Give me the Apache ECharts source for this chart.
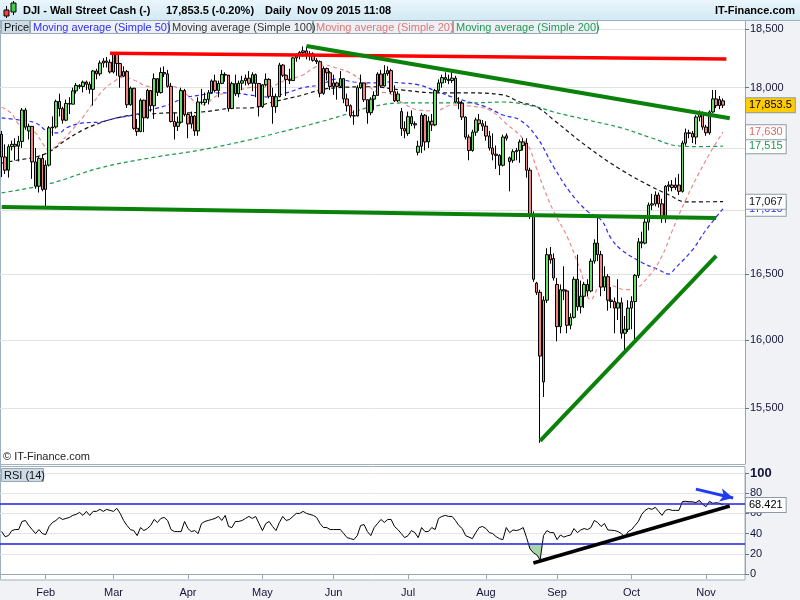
<!DOCTYPE html>
<html><head><meta charset="utf-8">
<script src="https://cdn.jsdelivr.net/npm/echarts@6/dist/echarts.min.js"></script>
<style>html,body{margin:0;padding:0;background:#fff}#c{width:800px;height:600px}</style>
</head><body><div id="c"></div>
<script>
// ---------- DATA ----------
// daily candles, each row = [open, close, low, high]
const ohlcJan = [
[17613,17427,17264,17640],[17427,17320,17290,17530],[17320,17511,17260,17530],[17511,17530,17480,17560],
[17530,17515,17400,17580],[17515,17554,17390,17600],[17554,17813,17500,17830],[17813,17672,17650,17830],
[17640,17678,17570,17700],[17678,17387,17250,17680],[17387,17191,17170,17500],[17191,17416,17140,17430],
[17416,17165,17150,17450]];
const ohlcFeb = [
[17165,17361,17010,17400],[17361,17666,17350,17680],[17666,17673,17600,17760],[17673,17885,17660,17900],
[17885,17825,17760,17950],[17825,17729,17700,17840],[17729,17868,17720,17900],[17868,17862,17780,17920],
[17862,17973,17860,18000],[17973,18019,17950,18040],[18019,18010,17990,18030],[18010,18047,17960,18060],
[18047,18029,17980,18060],[18029,17986,17950,18050],[17986,18141,17850,18150],[18141,18117,18070,18160],
[18117,18209,18100,18230],[18209,18225,18170,18250],[18225,18215,18170,18260],[18215,18133,18120,18240]];
const ohlcMar = [
[18133,18289,18120,18290],[18289,18204,18100,18290],[18204,18097,18000,18210],[18097,18136,18090,18180],
[18136,17857,17830,18150],[17857,17996,17850,18010],[17996,17662,17650,17990],[17662,17635,17600,17740],
[17635,17895,17630,17910],[17895,17749,17630,17900],[17749,17977,17740,17990],[17977,17849,17800,17980],
[17849,18076,17740,18120],[18076,17959,17930,18080],[17959,18128,17950,18170],[18128,18116,18090,18180],
[18116,18011,18000,18150],[18011,17718,17710,18040],[17718,17678,17570,17790],[17678,17712,17640,17760],
[17712,17976,17700,18000],[17976,17776,17760,17990]];
const ohlcApr = [
[17776,17698,17580,17790],[17698,17763,17660,17800],[17763,17640,17600,17770],[17640,17880,17600,17920],
[17880,17875,17860,17990],[17875,17902,17850,17960],[17902,17958,17860,17980],[17958,18057,17950,18070],
[18057,17977,17960,18110],[17977,18036,17920,18060],[18036,18112,18030,18150],[18112,18106,18050,18130],
[18106,17826,17800,18100],[17826,18034,17820,18050],[18034,17949,17930,18110],[17949,18038,17920,18060],
[18038,18058,17980,18100],[18058,18080,18020,18110],[18080,18037,18020,18140],[18037,18110,17970,18130],
[18110,18035,17920,18120],[18035,17841,17760,18040]];
const ohlcMay = [
[17841,18024,17830,18030],[18024,18070,18010,18120],[18070,17928,17910,18080],[17928,17841,17700,18000],
[17841,17924,17790,17950],[17924,18191,17920,18210],[18191,18105,18090,18200],[18105,18068,17930,18110],
[18068,18060,18030,18160],[18060,18252,18060,18260],[18252,18272,18220,18290],[18272,18298,18240,18310],
[18298,18312,18260,18350],[18312,18285,18240,18350],[18285,18285,18230,18310],[18285,18232,18220,18300],
[18232,18220,18200,18250],[18220,17953,17920,18230],[17953,18162,17940,18180],[18162,18126,18060,18170],
[18126,18010,17980,18140]];
const ohlcJun = [
[18010,18040,17940,18110],[18040,18011,17900,18050],[18011,18076,18000,18140],[18076,17906,17870,18080],
[17906,17849,17800,17950],[17849,17766,17750,17860],[17766,17764,17690,17810],[17764,18000,17760,18020],
[18000,18039,17990,18110],[18039,17899,17880,18040],[17899,17791,17700,17900],[17791,17904,17770,17920],
[17904,17935,17810,17970],[17935,18115,17930,18130],[18115,18015,18000,18150],[18015,18119,18010,18190],
[18119,18144,18100,18180],[18144,17966,17950,18160],[17966,17890,17880,18020],[17890,17947,17880,17970],
[17800,17660,17600,17830],[17660,17640,17580,17720]];
const ohlcJul = [
[17620,17758,17600,17800],[17758,17700,17680,17810],[17700,17690,17660,17720],[17465,17515,17440,17560],
[17515,17770,17460,17790],[17770,17550,17480,17780],[17550,17720,17500,17760],[17720,17690,17640,17780],
[17690,17977,17680,17990],[17977,18040,17960,18070],[18040,18085,18000,18110],[18085,18070,18040,18130],
[18070,18060,18030,18110],[18060,18080,18040,18140],[18080,17880,17870,18100],[17880,17870,17820,17920],
[17870,17755,17730,17890],[17755,17590,17570,17760],[17590,17480,17400,17610],[17480,17630,17470,17650],
[17630,17731,17600,17750],[17731,17700,17640,17780],[17700,17680,17640,17730]];
const ohlcAug = [
[17680,17598,17560,17720],[17598,17500,17480,17640],[17500,17450,17400,17620],[17450,17440,17330,17520],
[17440,17360,17280,17450],[17360,17590,17350,17610],[17600,17580,17560,17620],[17420,17390,17150,17430],
[17400,17470,17380,17490],[17470,17480,17400,17500],[17480,17550,17380,17570],[17550,17520,17480,17580],
[17540,17320,17260,17580],[17320,16950,16930,17340],[16950,16460,16440,16990],[16430,16360,16340,16440],
[16360,15880,15250,16380],[15690,16300,15580,16330],[16300,16650,16280,16700],[16650,16610,16580,16710],
[16620,16470,16450,16660]];
const ohlcSep = [
[16420,16100,15990,16470],[16100,16380,16050,16420],[16380,16370,16300,16560],[16370,16110,16050,16380],
[16110,16170,16080,16200],[16170,16460,16160,16480],[16460,16250,16220,16650],[16250,16330,16200,16450],
[16330,16420,16240,16440],[16420,16370,16330,16460],[16370,16600,16360,16620],[16600,16740,16580,16770],
[16740,16650,16600,16960],[16650,16400,16330,16680],[16400,16480,16370,16560],[16480,16300,16220,16500],
[16300,16290,16240,16400],[16290,16240,16050,16320],[16240,16280,16150,16460],[16280,16050,16010,16320],
[16050,16080,15910,16180],[16080,16240,16060,16300]];
const ohlcOct = [
[16240,16290,16080,16330],[16290,16490,15990,16500],[16490,16750,16470,16780],[16750,16740,16700,16830],
[16740,16905,16730,16940],[16905,17040,16840,17060],[17040,17050,17000,17130],[17050,17120,17030,17150],
[17120,17050,17020,17140],[17050,16950,16900,17090],[16950,17190,16900,17200],[17190,17200,17150,17230],
[17200,17180,17150,17240],[17180,17200,17160,17260],[17200,17150,17120,17290],[17150,17540,17140,17560],
[17540,17625,17520,17660],[17625,17620,17580,17650],[17620,17590,17540,17640],[17590,17755,17530,17770],
[17755,17790,17720,17810],[17790,17672,17650,17800]];
const ohlcNov = [
[17672,17625,17600,17690],[17625,17797,17610,17810],[17797,17906,17790,17981],[17906,17850,17830,17980],
[17850,17900,17820,17930],[17890,17853.5,17830,17910]];

// moving averages, [bar index, value]
const sma20Pts = [[0,17839],[3,17781],[5,17698],[10,17624],[12,17541],[14,17485],[17,17541],[20,17624],[24,17755],
[27,17872],[30,17981],[33,18048],[36,18090],[39,18065],[44,18008],[49,18024],[54,17956],[59,17855],[64,17939],
[68,17956],[73,18000],[79,18008],[84,18065],[89,18107],[92,18165],[95,18191],[99,18165],[103,18123],[107,18048],
[111,17964],[114,17956],[118,17880],[123,17814],[128,17806],[133,17855],[138,17847],[144,17814],[149,17700],
[155,17540],[158,17330],[160,17180],[163,16990],[167,16790],[171,16520],[174,16303],[177,16410],[180,16410],
[184,16380],[186,16380],[191,16480],[195,16640],[198,16836],[202,17082],[208,17403],[213,17630]];
const sma50Pts = [[0,17748],[5,17731],[10,17706],[14,17632],[17,17624],[19,17665],[24,17706],[29,17714],[34,17748],
[39,17772],[44,17814],[49,17855],[54,17914],[59,17939],[64,17956],[68,17956],[73,17939],[79,17922],[84,17956],
[89,18000],[94,18024],[99,18073],[104,18048],[109,18040],[114,18048],[118,18040],[123,18024],[129,17964],
[133,17922],[138,17880],[143,17839],[148,17772],[153,17731],[158,17590],[163,17346],[168,17138],[173,16990],
[177,16923],[180,16775],[183,16688],[189,16590],[194,16533],[197,16500],[199,16548],[204,16688],[208,16844],[213,17010]];
const sma100Pts = [[0,17378],[5,17403],[10,17427],[14,17468],[19,17566],[24,17648],[29,17706],[34,17748],[39,17772],
[44,17781],[49,17789],[54,17789],[59,17797],[64,17814],[68,17830],[73,17830],[79,17872],[84,17906],[89,17939],
[94,17981],[99,18000],[109,18008],[118,17981],[129,17956],[138,17956],[148,17939],[153,17880],[158,17839],
[163,17731],[173,17509],[183,17322],[192,17186],[197,17122],[202,17066],[213,17067]];
const sma200Pts = [[0,17138],[14,17210],[29,17338],[44,17420],[59,17485],[73,17566],[79,17607],[94,17714],[104,17797],
[109,17839],[118,17872],[129,17872],[138,17872],[148,17880],[158,17839],[163,17797],[173,17731],[183,17665],
[192,17582],[200,17517],[206,17512],[213,17515]];

// RSI(14) per bar
const rsiValues = [
42,37,38,43,44,44,52,53,48,44, 40,44,40,39,47,51,53,56,54,55, 56,58,59,61,58,62,58,62,62,64,
62,64,63,62,65,60,53,48,44,43, 38,46,43,45,48,54,51,55,56,53, 44,42,42,42,52,45,42,43,40,50,
52,53,54,55,57,53,58,47,46,52, 52,53,55,57,55,57,50,43,50,52, 47,43,51,57,53,54,57,60,60,62,
60,59,58,56,50,46,46,44,44,44, 44,40,36,35,34,38,48,49,42,38, 46,50,54,51,54,54,47,44,40,36,
38,43,41,36,46,42,42,46,44,55, 57,58,57,57,53,48,45,38,36.5,35, 41,46,47,45,41,40,37,35,34,46,
41,43.6,43,44,46,36,25,21,19,14, 38,43,41,41,34,38.6,36.5,37.8,38.6,45, 41,43.6,45,44,46,53,51,47,50,43.6,
43.3,43,42,40,36.5,42,44,48,52,59, 63,65,64,66,62,58,63,64,63,63, 63,71.6,72,71.5,71.5,70.6,73,69,66.6,72,
70,70.6,70,68.421];

// analyst trend lines: [bar index, value]
const trendRed = [[32,18291],[214,18243]];
const trendGreenDown = [[90,18354],[215,17745]];
const trendGreenFlat = [[0,17025],[211,16938]];
const trendGreenUp = [[159,15263],[211,16640]];
const rsiTrend = [[157,10.9],[215,67.3]];
const rsiArrow = [[205,84],[216,75.2]];

const priceTicks = [15500,16000,16500,17000,17500,18000,18500];
const rsiBands = [70,30];
const firstDay = '2015-01-14';
const nCategories = 220;
const monthNames = ['Jan','Feb','Mar','Apr','May','Jun','Jul','Aug','Sep','Oct','Nov','Dec'];

// ---------- BUILD ----------
const categories = [];
(function(){ const d=new Date(firstDay+'T00:00:00Z');
  while(categories.length<nCategories){ const w=d.getUTCDay(); if(w!==0&&w!==6) categories.push(d.toISOString().slice(0,10)); d.setUTCDate(d.getUTCDate()+1);} })();
function isMonthStart(i){ return i>0 && categories[i].slice(5,7)!==categories[i-1].slice(5,7); }
const ohlc = [].concat(ohlcJan,ohlcFeb,ohlcMar,ohlcApr,ohlcMay,ohlcJun,ohlcJul,ohlcAug,ohlcSep,ohlcOct,ohlcNov);
const fmt = v => Number(v).toLocaleString('en-US');
const FONT = '"Liberation Sans", Arial, sans-serif';
const C20='#ee8888', C50='#2a2aff', C100='#111111', C200='#1a9a4a';
const lastOf = a => a[a.length-1][1];
const HIDDEN = {color:'rgba(0,0,0,0)', width:0, type:'solid'};

function boxLabel(text, color, bg){
  return {show:true, position:'end', distance:1, formatter:text, color:color, backgroundColor:bg||'#fff',
    borderColor:'#8d9aa6', borderWidth:1, padding:[2,3,1,3], fontSize:11, fontFamily:FONT, opacity:1};
}
function seg(pts, style, endSym){
  return [{coord:pts[0], symbol:'none', lineStyle:style}, {coord:pts[1], symbol:endSym||'none', symbolSize:[10,13]}];
}
function maSeries(name, pts, color, boxColor){
  return {name, type:'line', xAxisIndex:0, yAxisIndex:0, data:pts, showSymbol:false, smooth:0.4, z:2,
    lineStyle:{color, width:1.2, type:[4,3]},
    markLine:{silent:true, symbol:'none', animation:false, z:6, label:{show:false},
      data:[{yAxis:lastOf(pts), lineStyle:HIDDEN, label:boxLabel(fmt(lastOf(pts)), boxColor||color)}]}};
}

const chart = echarts.init(document.getElementById('c'), null, {renderer:'canvas'});
const legendItems = [
  {t:'Price', x:1, w:28, c:'#111', bg:'#cddbe6'},
  {t:'Moving average (Simple 50)', x:30, w:138, c:'#2d2dff', bg:'#edf1f5'},
  {t:'Moving average (Simple 100)', x:169, w:143, c:'#333', bg:'#edf1f5'},
  {t:'Moving average (Simple 20)', x:313, w:139, c:'#e07676', bg:'#edf1f5'},
  {t:'Moving average (Simple 200)', x:453, w:144, c:'#1e9a55', bg:'#edf1f5'}
];
const graphics = [
  {type:'rect', z:-10, silent:true, shape:{x:745,y:20,width:55,height:580}, style:{fill:'#f0f2f5'}},
  {type:'rect', z:-10, silent:true, shape:{x:0,y:580,width:800,height:20}, style:{fill:'#f0f2f5'}},
  {type:'rect', z:-10, silent:true, shape:{x:0,y:0,width:800,height:20},
    style:{fill:new echarts.graphic.LinearGradient(0,0,0,1,[{offset:0,color:'#eaf6fc'},{offset:1,color:'#d3e9f4'}])}},
  {type:'line', silent:true, shape:{x1:0,y1:20.5,x2:800,y2:20.5}, style:{stroke:'#9fb0bf',lineWidth:1}},
  {type:'line', silent:true, shape:{x1:0.5,y1:20,x2:0.5,y2:580}, style:{stroke:'#9fb0bf',lineWidth:1}},
  {type:'line', silent:true, shape:{x1:0,y1:464.5,x2:745,y2:464.5}, style:{stroke:'#9fb0bf',lineWidth:1}},
  {type:'rect', silent:true, shape:{x:0.5,y:466.5,width:744.5,height:113.5}, style:{fill:'none',stroke:'#9fb0bf',lineWidth:1}},
  // header icon
  {type:'line', silent:true, shape:{x1:6.5,y1:6,x2:6.5,y2:18}, style:{stroke:'#000'}},
  {type:'rect', silent:true, shape:{x:4,y:10,width:5,height:6}, style:{fill:'#ee4444',stroke:'#000'}},
  {type:'line', silent:true, shape:{x1:13.5,y1:1,x2:13.5,y2:15}, style:{stroke:'#000'}},
  {type:'rect', silent:true, shape:{x:11,y:3,width:5,height:9}, style:{fill:'#44cc44',stroke:'#000'}},
  {type:'text', silent:true, x:23, y:11, style:{text:'DJI - Wall Street Cash (-)', font:'bold 11px '+FONT, fill:'#000', textVerticalAlign:'middle'}},
  {type:'text', silent:true, x:166, y:11, style:{text:'17,853.5 (-0.20%)', font:'bold 11px '+FONT, fill:'#000', textVerticalAlign:'middle'}},
  {type:'text', silent:true, x:265, y:11, style:{text:'Daily', font:'bold 11px '+FONT, fill:'#000', textVerticalAlign:'middle'}},
  {type:'text', silent:true, x:297, y:11, style:{text:'Nov 09 2015 11:08', font:'bold 11px '+FONT, fill:'#000', textVerticalAlign:'middle'}},
  {type:'text', silent:true, x:795, y:11, style:{text:'IT-Finance.com', font:'bold 11px '+FONT, fill:'#000', textAlign:'right', textVerticalAlign:'middle'}},
  {type:'text', silent:true, x:3, y:457, style:{text:'© IT-Finance.com', font:'11px '+FONT, fill:'#222', textVerticalAlign:'middle'}},
  {type:'rect', silent:true, z:50, shape:{x:1.5,y:468.5,width:42,height:13}, style:{fill:'#cddbe6',stroke:'#9aa8b5'}},
  {type:'text', silent:true, z:51, x:4, y:475.5, style:{text:'RSI (14)', font:'11px '+FONT, fill:'#111', textVerticalAlign:'middle'}}
];
legendItems.forEach(it=>{
  graphics.push({type:'rect', silent:true, z:50, shape:{x:it.x+0.5,y:20.5,width:it.w,height:13}, style:{fill:it.bg,stroke:'#9aa8b5'}});
  graphics.push({type:'text', silent:true, z:51, x:it.x+3, y:27.5, style:{text:it.t, font:'11px '+FONT, fill:it.c, textVerticalAlign:'middle'}});
});

const axisGray = '#9aa6b2';
const option = {
  animation:false,
  backgroundColor:'#ffffff',
  textStyle:{fontFamily:FONT},
  grid:[
    {left:0, top:21, width:745, height:443, outerBoundsMode:'none'},
    {left:0, top:473, width:745, height:101, outerBoundsMode:'none'},
    {left:0, top:473, width:745, height:30.3, outerBoundsMode:'none'},
    {left:0, top:543.7, width:745, height:30.3, outerBoundsMode:'none'}
  ],
  xAxis:[
    {type:'category', gridIndex:0, data:categories, axisLabel:{show:false}, axisTick:{show:false}, axisLine:{show:false}, splitLine:{show:false}},
    {type:'category', gridIndex:1, data:categories, offset:6,
      axisLine:{show:true, lineStyle:{color:axisGray}},
      axisTick:{show:true, alignWithLabel:true, interval:(i)=>isMonthStart(i), length:5, lineStyle:{color:axisGray}},
      axisLabel:{interval:(i)=>isMonthStart(i), formatter:v=>monthNames[+v.slice(5,7)-1], color:'#14143a', fontSize:11, margin:7, fontFamily:FONT},
      splitLine:{show:false}},
    {type:'category', gridIndex:2, data:categories, show:false},
    {type:'category', gridIndex:3, data:categories, show:false}
  ],
  yAxis:[
    {type:'log', logBase:10, gridIndex:0, position:'right', min:15099.9, max:18569.2,
      axisLine:{show:true, lineStyle:{color:axisGray}},
      axisTick:{show:true, length:4, customValues:priceTicks, lineStyle:{color:'#6a7682'}},
      axisLabel:{customValues:priceTicks, formatter:v=>fmt(Math.round(v)), color:'#14143a', fontSize:11, margin:5, fontFamily:FONT},
      splitLine:{show:false}},
    {type:'value', gridIndex:1, position:'right', min:0, max:100, interval:20,
      axisLine:{show:true, lineStyle:{color:axisGray}},
      axisTick:{show:true, length:4, lineStyle:{color:'#6a7682'}},
      axisLabel:{color:'#14143a', fontSize:11, margin:5, fontFamily:FONT,
        formatter:v=> v===100 ? '{b|100}' : String(v), rich:{b:{fontWeight:'bold', fontSize:13, color:'#14143a', fontFamily:FONT}}},
      splitLine:{show:true, lineStyle:{color:'#e4e4e4'}}},
    {type:'value', gridIndex:2, min:70, max:100, show:false, splitLine:{show:false}},
    {type:'value', gridIndex:3, min:0, max:30, show:false, splitLine:{show:false}}
  ],
  series:[
    {name:'grid', type:'line', xAxisIndex:0, yAxisIndex:0, data:[], silent:true,
      markLine:{silent:true, symbol:'none', animation:false, z:0, label:{show:false},
        data: priceTicks.map(v=>({yAxis:v, lineStyle:{color:'#e2e2e2', width:1, type:'solid'}}))}},
    maSeries('sma200', sma200Pts, C200),
    maSeries('sma50', sma50Pts, C50),
    maSeries('sma100', sma100Pts, C100),
    maSeries('sma20', sma20Pts, C20, '#e06666'),
    {name:'price', type:'candlestick', xAxisIndex:0, yAxisIndex:0, data:ohlc, barWidth:3, z:3,
      itemStyle:{color:'#66e066', color0:'#f08484', borderColor:'#000', borderColor0:'#000', borderWidth:1},
      markLine:{silent:true, symbol:'none', animation:false, label:{show:false},
        data:[
          seg(trendRed, {color:'#ff0000', width:3.5, type:'solid'}),
          seg(trendGreenDown, {color:'#0a820a', width:4, type:'solid'}),
          seg(trendGreenFlat, {color:'#0a820a', width:4, type:'solid'}),
          seg(trendGreenUp, {color:'#0a820a', width:4, type:'solid'}),
          {yAxis:ohlc[ohlc.length-1][1], lineStyle:HIDDEN, label:boxLabel(fmt(ohlc[ohlc.length-1][1]), '#000', '#ffcc00')}
        ]}},
    {name:'rsiOver', type:'line', xAxisIndex:2, yAxisIndex:2, data:rsiValues, showSymbol:false, z:1,
      lineStyle:{width:0, opacity:0}, areaStyle:{color:'#e2b0b0', opacity:1, origin:'start'}},
    {name:'rsiUnder', type:'line', xAxisIndex:3, yAxisIndex:3, data:rsiValues, showSymbol:false, z:1,
      lineStyle:{width:0, opacity:0}, areaStyle:{color:'#a9d6a9', opacity:1, origin:'end'}},
    {name:'rsi', type:'line', xAxisIndex:1, yAxisIndex:1, data:rsiValues, showSymbol:false, z:3,
      lineStyle:{color:'#000', width:1},
      markLine:{silent:true, symbol:'none', animation:false, label:{show:false},
        data: rsiBands.map(v=>({yAxis:v, lineStyle:{color:'#2222e0', width:1.5, type:'solid'}})).concat([
          seg(rsiTrend, {color:'#000', width:3.5, type:'solid'}),
          seg(rsiArrow, {color:'#1f3cf0', width:3, type:'solid'}, 'arrow'),
          {yAxis:rsiValues[rsiValues.length-1], lineStyle:HIDDEN, label:boxLabel(String(rsiValues[rsiValues.length-1]), '#000')}
        ])}}
  ],
  graphic:{elements:graphics}
};
chart.setOption(option);
</script>
</body></html>
